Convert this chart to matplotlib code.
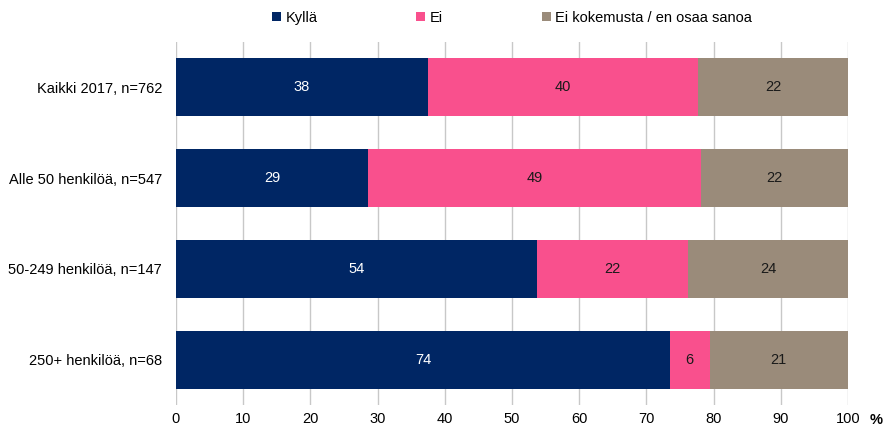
import numpy as np
import matplotlib.pyplot as plt

plt.rcParams['font.family'] = ['Liberation Sans', 'DejaVu Sans']

categories = ['Kaikki 2017, n=762', 'Alle 50 henkilöä, n=547',
              '50-249 henkilöä, n=147', '250+ henkilöä, n=68']
kylla = [37.5, 28.6, 53.7, 73.5]
ei = [40.2, 49.5, 22.5, 5.9]
eos = [22.3, 21.9, 23.8, 20.6]
labels_kylla = ['38', '29', '54', '74']
labels_ei = ['40', '49', '22', '6']
labels_eos = ['22', '22', '24', '21']
series = ['Kyllä', 'Ei', 'Ei kokemusta / en osaa sanoa']
colors = ['#002664', '#F9508D', '#9A8B7A']

fig = plt.figure(figsize=(8.85, 4.29), dpi=100)
ax = fig.add_axes([176/885, 1 - 405/429, (848-176)/885, (405-42)/429])

y = np.arange(len(categories))
left = np.zeros(len(categories))
for vals, labs, name, c in zip([kylla, ei, eos], [labels_kylla, labels_ei, labels_eos], series, colors):
    bars = ax.barh(y, vals, left=left, height=0.64, color=c, label=name, zorder=2)
    txtcol = 'white' if c == '#002664' else '#1a1a1a'
    for b, lab in zip(bars, labs):
        ax.text(b.get_x() + b.get_width() / 2, b.get_y() + b.get_height() / 2, lab,
                ha='center', va='center', color=txtcol, fontsize=10.5, zorder=3)
    left = left + np.array(vals)

ax.set_xlim(0, 100)
ax.set_ylim(3.5, -0.5)
ax.set_yticks(y)
ax.set_yticklabels(categories, fontsize=10.5)
ax.set_xticks(np.arange(0, 101, 10))
ax.tick_params(axis='x', labelsize=10.5, length=0, pad=5)
ax.tick_params(axis='y', length=0, pad=10)
ax.grid(axis='x', color='#c8c8c8', linewidth=1, zorder=0)
for s in ax.spines.values():
    s.set_visible(False)

fig.text(876/885, 1 - 420/429, '%', fontsize=10.5, fontweight='bold', ha='center', va='center')

fig.legend(loc='center', bbox_to_anchor=(512/885, 1 - 18/429), ncol=3, frameon=False,
           fontsize=10.5, handlelength=0.6, handleheight=0.6, handletextpad=0.3,
           columnspacing=6.8, borderaxespad=0)

plt.savefig('out.png', dpi=100)
